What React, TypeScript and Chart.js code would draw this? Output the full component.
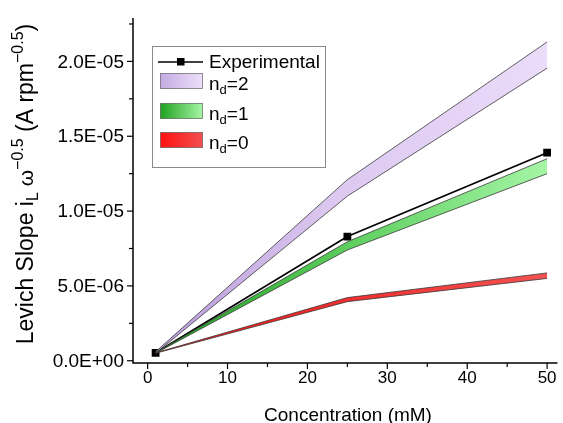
import React, { useEffect, useRef } from "react";
import { Chart, registerables } from "chart.js";

Chart.register(...registerables);

const concentrations = [1, 25, 50];
const experimental = [0.53e-6, 8.3e-6, 13.9e-6];
const nd2Upper = [0.6e-6, 12.1e-6, 21.3e-6];
const nd2Lower = [0.5e-6, 11.0e-6, 19.55e-6];
const nd1Upper = [0.55e-6, 7.95e-6, 13.5e-6];
const nd1Lower = [0.5e-6, 7.4e-6, 12.5e-6];
const nd0Upper = [0.53e-6, 4.22e-6, 5.87e-6];
const nd0Lower = [0.5e-6, 3.95e-6, 5.5e-6];

const xMajorTicks = [0, 10, 20, 30, 40, 50];
const xMinorTicks = [5, 15, 25, 35, 45];
const yMajorTicks = [0, 5e-6, 1e-5, 1.5e-5, 2e-5];
const yMajorLabels = ["0.0E+00", "5.0E-06", "1.0E-05", "1.5E-05", "2.0E-05"];
const yMinorTicks = [2.5e-6, 7.5e-6, 1.25e-5, 1.75e-5, 2.25e-5];

const FONT = '"Liberation Sans", Arial, sans-serif';

type Part = { t: string; s: number; dy: number };

function richWidth(ctx: CanvasRenderingContext2D, parts: Part[]) {
  let w = 0;
  for (const p of parts) {
    ctx.font = `${p.s}px ${FONT}`;
    w += ctx.measureText(p.t).width;
  }
  return w;
}

function drawRich(ctx: CanvasRenderingContext2D, parts: Part[], x: number, y: number) {
  let cx = x;
  for (const p of parts) {
    ctx.font = `${p.s}px ${FONT}`;
    ctx.fillText(p.t, cx, y + p.dy);
    cx += ctx.measureText(p.t).width;
  }
}

function hGrad(chart: any, stops: [number, string][]) {
  const { ctx, chartArea, scales } = chart;
  if (!chartArea) return stops[stops.length - 1][1];
  const x0 = scales.x.getPixelForValue(concentrations[0]);
  const x1 = scales.x.getPixelForValue(concentrations[concentrations.length - 1]);
  const g = ctx.createLinearGradient(x0, 0, x1, 0);
  for (const [o, c] of stops) g.addColorStop(o, c);
  return g;
}

const purpleStops: [number, string][] = [[0, "#b99ad9"], [0.45, "#dcc8f0"], [1, "#ebdcfa"]];
const greenStops: [number, string][] = [[0, "#1f9a1f"], [0.5, "#5fcf5f"], [1, "#a5f5a5"]];
const redStops: [number, string][] = [[0, "#ff1010"], [0.5, "#f03030"], [1, "#f25252"]];

const axesPlugin = {
  id: "customAxes",
  afterDraw(chart: any) {
    const { ctx, chartArea, scales } = chart;
    const xs = scales.x;
    const ys = scales.y;
    ctx.save();
    ctx.strokeStyle = "#000";
    ctx.fillStyle = "#000";
    ctx.lineWidth = 1.5;
    ctx.beginPath();
    ctx.moveTo(chartArea.left, chartArea.top);
    ctx.lineTo(chartArea.left, chartArea.bottom);
    ctx.lineTo(chartArea.right, chartArea.bottom);
    ctx.stroke();
    ctx.lineWidth = 1.2;
    for (const v of xMajorTicks) {
      const px = xs.getPixelForValue(v);
      ctx.beginPath();
      ctx.moveTo(px, chartArea.bottom);
      ctx.lineTo(px, chartArea.bottom + 6);
      ctx.stroke();
    }
    for (const v of xMinorTicks) {
      const px = xs.getPixelForValue(v);
      ctx.beginPath();
      ctx.moveTo(px, chartArea.bottom);
      ctx.lineTo(px, chartArea.bottom + 4);
      ctx.stroke();
    }
    for (const v of yMajorTicks) {
      const py = ys.getPixelForValue(v);
      ctx.beginPath();
      ctx.moveTo(chartArea.left, py);
      ctx.lineTo(chartArea.left - 6, py);
      ctx.stroke();
    }
    for (const v of yMinorTicks) {
      const py = ys.getPixelForValue(v);
      ctx.beginPath();
      ctx.moveTo(chartArea.left, py);
      ctx.lineTo(chartArea.left - 4, py);
      ctx.stroke();
    }
    ctx.font = `17px ${FONT}`;
    ctx.textAlign = "center";
    ctx.textBaseline = "top";
    for (const v of xMajorTicks) {
      ctx.fillText(String(v), xs.getPixelForValue(v), chartArea.bottom + 7);
    }
    ctx.font = `19px ${FONT}`;
    ctx.textAlign = "right";
    ctx.textBaseline = "middle";
    yMajorTicks.forEach((v, i) => {
      ctx.fillText(yMajorLabels[i], chartArea.left - 9, ys.getPixelForValue(v) + 1);
    });
    ctx.font = `19px ${FONT}`;
    ctx.textAlign = "center";
    ctx.textBaseline = "alphabetic";
    ctx.fillText("Concentration (mM)", 348, 421);
    const yParts: Part[] = [
      { t: "Levich Slope i", s: 23, dy: 0 },
      { t: "L", s: 16, dy: 5 },
      { t: " \u03c9", s: 21, dy: 0 },
      { t: "\u22120.5", s: 16, dy: -10 },
      { t: " (A rpm", s: 23, dy: 0 },
      { t: "\u22120.5", s: 16, dy: -10 },
      { t: ")", s: 23, dy: 0 },
    ];
    ctx.save();
    ctx.translate(33, 184);
    ctx.rotate(-Math.PI / 2);
    ctx.textAlign = "left";
    const w = richWidth(ctx, yParts);
    drawRich(ctx, yParts, -w / 2, 0);
    ctx.restore();

    const lx = 152.5, ly = 46.5, lw = 173, lh = 121;
    ctx.fillStyle = "#fff";
    ctx.fillRect(lx, ly, lw, lh);
    ctx.strokeStyle = "#8a8a8a";
    ctx.lineWidth = 1;
    ctx.strokeRect(lx, ly, lw, lh);
    ctx.fillStyle = "#000";
    ctx.strokeStyle = "#000";
    ctx.lineWidth = 1.5;
    ctx.beginPath();
    ctx.moveTo(158, 62);
    ctx.lineTo(203, 62);
    ctx.stroke();
    ctx.fillRect(177, 58, 7.5, 7.5);
    ctx.textAlign = "left";
    ctx.textBaseline = "alphabetic";
    ctx.font = `19px ${FONT}`;
    ctx.fillText("Experimental", 209, 68);
    const swatches: { y: number; stops: [number, string][]; label: string }[] = [
      { y: 73, stops: [[0, "#c4aae2"], [1, "#ece0fa"]], label: "2" },
      { y: 103, stops: [[0, "#1ea01e"], [1, "#a8f7a8"]], label: "1" },
      { y: 132, stops: [[0, "#ff1010"], [1, "#f25050"]], label: "0" },
    ];
    for (const s of swatches) {
      const g = ctx.createLinearGradient(160, 0, 203, 0);
      for (const [o, c] of s.stops) g.addColorStop(o, c);
      ctx.fillStyle = g;
      ctx.fillRect(160, s.y, 43, 16);
      ctx.strokeStyle = "#777";
      ctx.lineWidth = 0.8;
      ctx.strokeRect(160.5, s.y + 0.5, 42, 15);
      ctx.fillStyle = "#000";
      drawRich(
        ctx,
        [
          { t: "n", s: 19, dy: 0 },
          { t: "d", s: 13, dy: 4 },
          { t: "=" + s.label, s: 19, dy: 0 },
        ],
        209,
        s.y + 17
      );
    }
    ctx.restore();
  },
};

function band(data: number[], fill: any, bg: any) {
  return {
    data: concentrations.map((x, i) => ({ x, y: data[i] })),
    borderColor: "#3a3a3a",
    borderWidth: 0.8,
    backgroundColor: bg,
    fill,
    pointRadius: 0,
    tension: 0,
  };
}

export default function App() {
  const ref = useRef<HTMLCanvasElement>(null);
  useEffect(() => {
    const canvas = ref.current;
    if (!canvas) return;
    const chart = new Chart(canvas, {
      type: "line",
      data: {
        datasets: [
          band(nd0Lower, false, "transparent"),
          band(nd0Upper, "-1", (c: any) => hGrad(c.chart, redStops)),
          band(nd1Lower, false, "transparent"),
          band(nd1Upper, "-1", (c: any) => hGrad(c.chart, greenStops)),
          band(nd2Lower, false, "transparent"),
          band(nd2Upper, "-1", (c: any) => hGrad(c.chart, purpleStops)),
          {
            data: concentrations.map((x, i) => ({ x, y: experimental[i] })),
            borderColor: "#000",
            borderWidth: 1.7,
            backgroundColor: "#000",
            pointStyle: "rect",
            pointRadius: 5.5,
            pointBorderWidth: 0,
            fill: false,
            tension: 0,
          } as any,
        ],
      },
      options: {
        animation: false,
        responsive: false,
        devicePixelRatio: 1,
        layout: { padding: { left: 133, right: 3, top: 18, bottom: 60 } },
        plugins: { legend: { display: false }, tooltip: { enabled: false } },
        scales: {
          x: { type: "linear", min: -1.83, max: 51.3, display: false },
          y: { type: "linear", min: -1.5e-7, max: 2.29e-5, display: false },
        },
      },
      plugins: [axesPlugin],
    });
    return () => chart.destroy();
  }, []);
  return (
    <div style={{ position: "fixed", left: 0, top: 0, width: 563, height: 423, background: "#fff" }}>
      <canvas ref={ref} width={563} height={423} />
    </div>
  );
}
